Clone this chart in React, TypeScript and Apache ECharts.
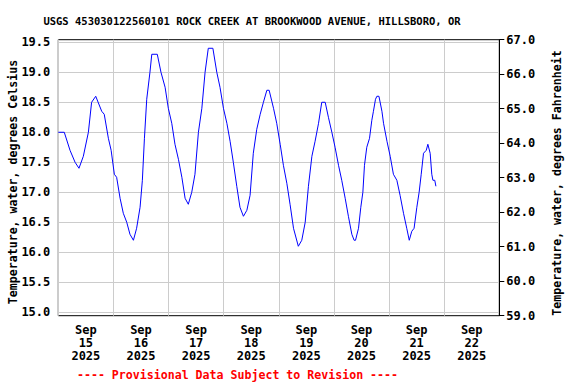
import React, { useEffect, useRef } from "react";
import * as echarts from "echarts";

const TITLE = "USGS 453030122560101 ROCK CREEK AT BROOKWOOD AVENUE, HILLSBORO, OR";
const FOOTER = "---- Provisional Data Subject to Revision ----";
const LEFT_NAME = "Temperature, water, degrees Celsius";
const RIGHT_NAME = "Temperature, water, degrees Fahrenheit";

const dayLabels = ["Sep\n15\n2025", "Sep\n16\n2025", "Sep\n17\n2025", "Sep\n18\n2025", "Sep\n19\n2025", "Sep\n20\n2025", "Sep\n21\n2025", "Sep\n22\n2025"];
const celsiusTicks = [15.0, 15.5, 16.0, 16.5, 17.0, 17.5, 18.0, 18.5, 19.0, 19.5];

// hours since Sep 15 2025 00:00
const hours = [0, 2.6, 5.1, 7.3, 9.0, 10.9, 13.1, 14.5, 16.3, 18.9, 20.0, 21.8, 23.0, 24.4, 25.4, 26.9, 28.3, 29.8, 31.2, 32.7, 34.1, 35.6, 36.6, 37.5, 38.5, 39.9, 40.7, 43.1, 44.7, 46.5, 47.9, 49.4, 50.8, 52.3, 53.8, 55.2, 56.6, 58.1, 59.5, 61.0, 62.5, 63.9, 65.3, 67.3, 69.0, 70.4, 71.9, 73.4, 74.8, 76.2, 77.7, 79.1, 80.6, 82.1, 83.5, 84.9, 86.4, 87.9, 89.3, 90.8, 91.8, 93.7, 95.1, 96.6, 98.0, 99.5, 100.9, 102.4, 104.5, 106.0, 107.5, 108.9, 110.4, 111.8, 113.3, 114.7, 116.2, 117.6, 119.1, 120.5, 122.0, 123.4, 124.9, 126.3, 127.8, 128.8, 129.4, 130.7, 131.7, 132.6, 133.3, 134.3, 135.5, 136.5, 137.2, 138.1, 138.7, 139.6, 140.9, 141.6, 143.1, 144.5, 145.9, 147.4, 148.8, 150.3, 151.7, 152.8, 153.9, 154.9, 156.1, 157.1, 158.0, 159.0, 160.2, 160.9, 161.9, 162.6, 163.1, 163.9, 164.4];
const temps = [18.0, 18.0, 17.7, 17.5, 17.4, 17.6, 18.0, 18.5, 18.6, 18.35, 18.3, 17.9, 17.7, 17.3, 17.25, 16.9, 16.65, 16.5, 16.3, 16.2, 16.4, 16.75, 17.2, 17.9, 18.55, 19.0, 19.3, 19.3, 19.0, 18.75, 18.4, 18.15, 17.8, 17.55, 17.25, 16.9, 16.8, 17.0, 17.3, 18.0, 18.4, 19.0, 19.4, 19.4, 19.0, 18.75, 18.4, 18.15, 17.85, 17.5, 17.1, 16.75, 16.6, 16.7, 16.95, 17.65, 18.05, 18.3, 18.5, 18.7, 18.7, 18.4, 18.15, 17.8, 17.45, 17.15, 16.8, 16.4, 16.1, 16.2, 16.5, 17.1, 17.6, 17.85, 18.15, 18.5, 18.5, 18.25, 18.0, 17.75, 17.45, 17.2, 16.9, 16.6, 16.3, 16.2, 16.2, 16.4, 16.75, 17.0, 17.45, 17.75, 17.9, 18.2, 18.35, 18.55, 18.6, 18.6, 18.35, 18.15, 17.85, 17.6, 17.3, 17.2, 16.95, 16.65, 16.4, 16.2, 16.35, 16.4, 16.75, 17.0, 17.3, 17.65, 17.7, 17.8, 17.65, 17.3, 17.2, 17.2, 17.1];

const FONT = "'DejaVu Sans Mono', monospace";

export default function App() {
  const ref = useRef<HTMLDivElement>(null);
  useEffect(() => {
    if (!ref.current) return;
    const chart = echarts.init(ref.current, null, { renderer: "svg" });
    const labelStyle = { fontFamily: FONT, fontWeight: "bold" as const, fontSize: 12, color: "#000" };
    const nameStyle = { fontFamily: FONT, fontWeight: "bold", fontSize: 11.6, fill: "#000", textAlign: "center", textVerticalAlign: "middle" };
    chart.setOption({
      animation: false,
      backgroundColor: "#fff",
      grid: {
        left: 58.3,
        top: 39.7,
        width: 441,
        height: 276,
        show: true,
        borderColor: "#000",
        borderWidth: 1,
        containLabel: false,
        outerBoundsMode: "none",
      },
      graphic: [
        {
          type: "text",
          x: 252,
          y: 20.5,
          style: { text: TITLE, fontFamily: FONT, fontWeight: "bold", fontSize: 10.5, fill: "#000", textAlign: "center", textVerticalAlign: "middle" },
        },
        {
          type: "text",
          x: 237.5,
          y: 375,
          style: { text: FOOTER, fontFamily: FONT, fontWeight: "bold", fontSize: 11.6, fill: "#ff0000", textAlign: "center", textVerticalAlign: "middle" },
        },
        {
          type: "text",
          x: 12.5,
          y: 182,
          rotation: Math.PI / 2,
          style: { text: LEFT_NAME, ...nameStyle },
        },
        {
          type: "text",
          x: 556.5,
          y: 183,
          rotation: Math.PI / 2,
          style: { text: RIGHT_NAME, ...nameStyle },
        },
      ],
      xAxis: [
        {
          type: "value",
          min: 0,
          max: 192,
          interval: 24,
          axisLine: { show: false },
          axisTick: { show: false },
          axisLabel: { show: false },
          splitLine: { show: true, lineStyle: { color: "#cccccc", width: 1 } },
        },
        {
          type: "category",
          data: dayLabels,
          boundaryGap: true,
          position: "bottom",
          offset: 0,
          axisLine: { show: false },
          axisTick: { show: false },
          splitLine: { show: false },
          axisLabel: { ...labelStyle, lineHeight: 13, margin: 8, interval: 0 },
        },
      ],
      yAxis: [
        {
          type: "value",
          position: "left",
          min: 14.943,
          max: 19.543,
          axisLine: { show: false },
          axisTick: { show: false, customValues: celsiusTicks },
          axisLabel: { ...labelStyle, margin: 8, customValues: celsiusTicks, formatter: (v: number) => v.toFixed(1) },
          splitLine: { show: true, lineStyle: { color: "#cccccc", width: 1 } },
        },
        {
          type: "value",
          position: "right",
          min: 59,
          max: 67,
          interval: 1,
          axisLine: { show: true, lineStyle: { color: "#000", width: 1 } },
          axisTick: { show: true, length: 5, lineStyle: { color: "#000" } },
          axisLabel: { ...labelStyle, margin: 7, formatter: (v: number) => v.toFixed(1) },
          splitLine: { show: false },
        },
      ],
      series: [
        {
          type: "line",
          xAxisIndex: 0,
          yAxisIndex: 0,
          data: hours.map((h, i) => [h, temps[i]]),
          showSymbol: false,
          lineStyle: { color: "#0000ff", width: 1 },
          itemStyle: { color: "#0000ff" },
        },
      ],
    });
    return () => chart.dispose();
  }, []);
  return <div ref={ref} style={{ position: "absolute", left: 0, top: 0, width: 576, height: 384 }} />;
}
